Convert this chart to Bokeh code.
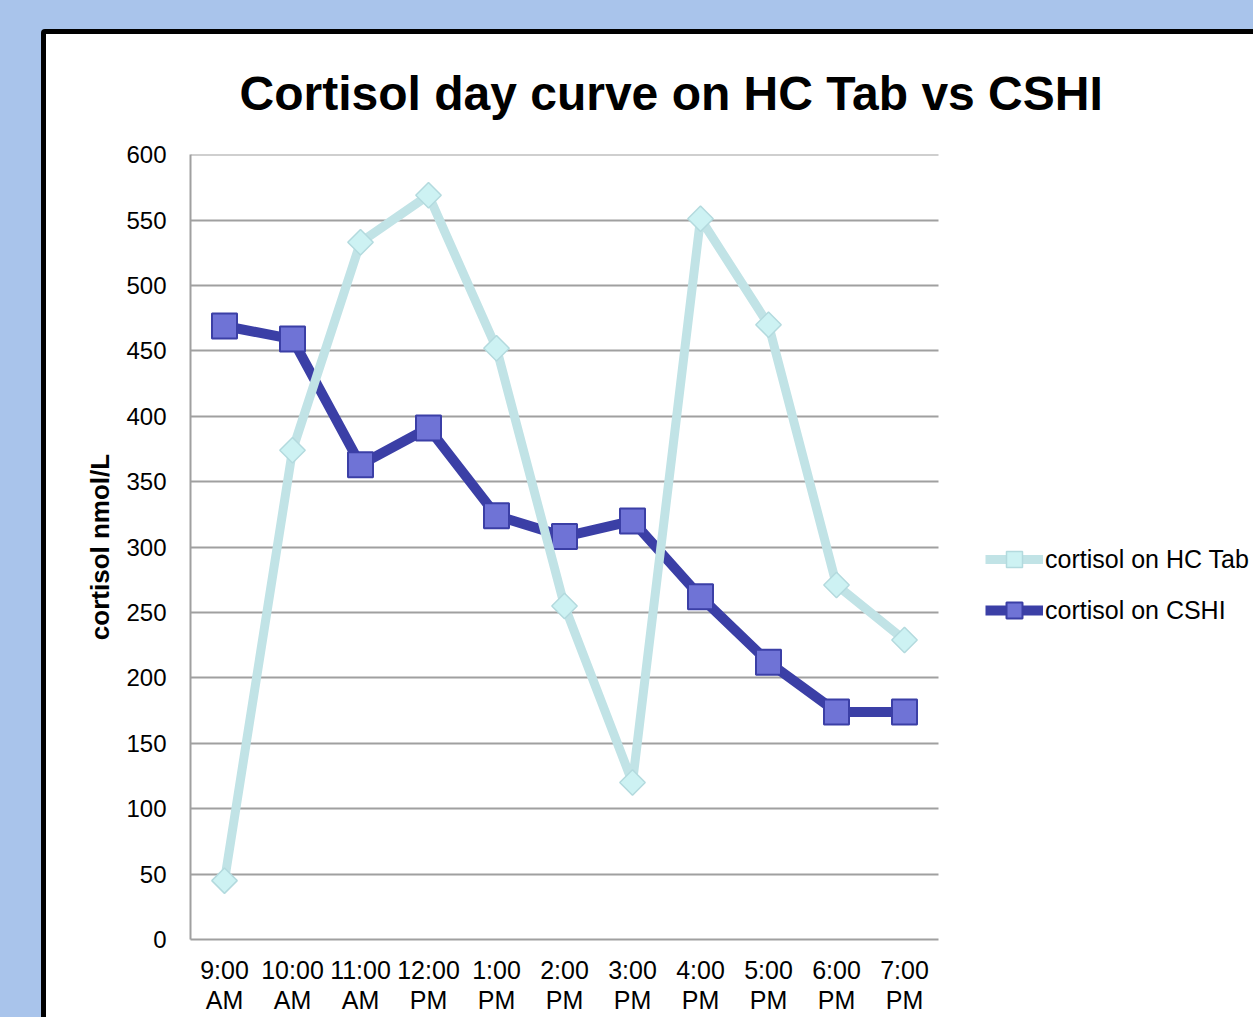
import numpy as np
from bokeh.plotting import figure
from bokeh.layouts import column
from bokeh.models import (Range1d, SingleIntervalTicker, FixedTicker, Legend,
                          LegendItem)
from bokeh.embed import file_html
from bokeh.resources import INLINE

# ---- data ----
times = ["9:00\nAM", "10:00\nAM", "11:00\nAM", "12:00\nPM", "1:00\nPM", "2:00\nPM",
         "3:00\nPM", "4:00\nPM", "5:00\nPM", "6:00\nPM", "7:00\nPM"]
hc_tab = [45, 374, 533, 569, 452, 255, 120, 551, 470, 271, 229]
cshi = [469, 459, 363, 391, 324, 308, 320, 262, 212, 174, 174]
series_names = ["cortisol on HC Tab", "cortisol on CSHI"]
title_text = "Cortisol day curve on HC Tab vs CSHI"
y_label = "cortisol nmol/L"
y_min, y_max, y_step = 0, 600, 50

FONT = "Liberation Sans"

idx = list(range(len(times)))
CANVAS_W, CANVAS_H = 1207, 983
LEFT, TOP, BOTTOM = 144, 120, 78
CAT_PX = 68  # pixels per category slot
frame_w = CANVAS_W - LEFT
x_end = -0.5 + frame_w / CAT_PX  # frame extends right to hold the legend

p = figure(width=CANVAS_W, height=CANVAS_H,
           x_range=Range1d(-0.5, x_end), y_range=Range1d(y_min, y_max + 0.1),
           output_backend="svg", toolbar_location=None,
           min_border_left=LEFT, min_border_top=TOP, min_border_bottom=BOTTOM,
           min_border_right=0,
           border_fill_color="white", background_fill_color="white")
p.outline_line_color = None
p.outline_line_alpha = 0

p.title.text = title_text
p.title.text_font = FONT
p.title.text_font_size = "48px"
p.title.text_font_style = "bold"
p.title.text_color = "black"
p.title.text_line_height = 1.0
p.title.align = "left"
p.title.vertical_align = "top"
p.title.offset = 49
p.title.standoff = 65

# axes / grid
ticker = SingleIntervalTicker(interval=y_step, num_minor_ticks=0)
p.yaxis.ticker = ticker
p.ygrid.ticker = ticker
p.ygrid.grid_line_color = "#a0a0a0"
p.ygrid.grid_line_width = 2
p.ygrid.cross_bounds = (-0.5, len(times) - 0.5)
p.xgrid.grid_line_color = None

p.xaxis.ticker = FixedTicker(ticks=idx, minor_ticks=[])
p.xaxis.major_label_overrides = {i: t for i, t in zip(idx, times)}
p.xaxis.bounds = (-0.5, len(times) - 0.5)

for ax in (p.xaxis[0], p.yaxis[0]):
    ax.axis_line_color = "#a0a0a0"
    ax.axis_line_width = 2
    ax.major_tick_line_color = None
    ax.minor_tick_line_color = None
    ax.major_tick_out = 0
    ax.major_tick_in = 0
    ax.minor_tick_out = 0
    ax.major_label_text_font = FONT
    ax.major_label_text_color = "black"

p.yaxis.major_label_text_font_size = "24px"
p.yaxis.major_label_standoff = 24
p.xaxis.major_label_text_font_size = "25px"
p.xaxis.major_label_standoff = 16
p.xaxis.major_label_text_line_height = 1.1

p.yaxis.axis_label = y_label
p.yaxis.axis_label_text_font = FONT
p.yaxis.axis_label_text_font_size = "26px"
p.yaxis.axis_label_text_font_style = "bold"
p.yaxis.axis_label_standoff = 8
p.yaxis.axis_label_text_color = "black"

# series
l2 = p.line(idx, cshi, line_color="#3b3fa6", line_width=10, line_join="round")
s2 = p.scatter(idx, cshi, marker="square", size=25, fill_color="#6f73d6",
               line_color="#3b3fa6", line_width=2)
l1 = p.line(idx, hc_tab, line_color="#c1e3e6", line_width=9, line_join="round")
s1 = p.scatter(idx, hc_tab, marker="square", angle=np.pi / 4, size=18,
               fill_color="#cdf2f3", line_color="#b3dade", line_width=1.5)

legend = Legend(items=[LegendItem(label=series_names[0], renderers=[l1, s1]),
                       LegendItem(label=series_names[1], renderers=[l2, s2])],
                location=(795, 309), padding=0, margin=0, spacing=11,
                glyph_width=58, glyph_height=40, label_height=40,
                label_standoff=2, label_text_font=FONT,
                label_text_font_size="25px", label_text_color="black",
                border_line_color=None, background_fill_alpha=0)
p.add_layout(legend)

white = column(p, styles={"background-color": "white"})
inner = column(white, styles={"background-color": "black", "padding-left": "5px",
                              "padding-top": "5px", "border-top-left-radius": "4px"})
page = column(inner, styles={"background-color": "#a9c4eb", "padding-left": "41px",
                             "padding-top": "29px", "width": "1253px",
                             "height": "1017px", "box-sizing": "border-box",
                             "overflow": "hidden"})

open("out.html", "w").write(file_html(page, INLINE))
